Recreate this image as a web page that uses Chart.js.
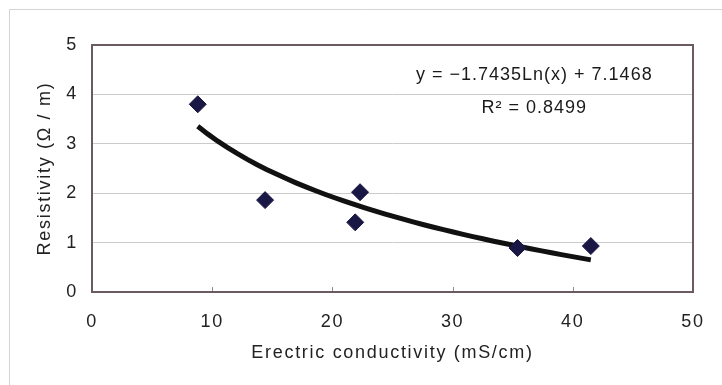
<!DOCTYPE html>
<html>
<head>
<meta charset="utf-8">
<script src="https://cdn.jsdelivr.net/npm/chart.js@4/dist/chart.umd.min.js"></script>
<style>
  html, body { margin: 0; padding: 0; background: #fff; }
  #wrap { width: 722px; height: 385px; position: relative; }
</style>
</head>
<body>
<div id="wrap"><canvas id="myChart" width="722" height="385"></canvas></div>
<script>
// Dados
const conductivity = [8.8, 14.4, 21.9, 22.3, 35.4, 41.5];
const resistivity = [3.8, 1.86, 1.41, 2.02, 0.89, 0.93];
const xTicks = [0, 10, 20, 30, 40, 50];
const yTicks = [0, 1, 2, 3, 4, 5];

// Linha de tendência logarítmica (coeficientes da equação do gráfico)
const trendA = -1.7435;
const trendB = 7.1468;
const trendLabel = ['y = \u22121.7435Ln(x) + 7.1468', 'R\u00b2 = 0.8499'];

const xMin = Math.min(...conductivity);
const xMax = Math.max(...conductivity);
const trendPoints = [];
for (let i = 0; i <= 40; i++) {
    const x = xMin + (xMax - xMin) * i / 40;
    trendPoints.push({ x: x, y: trendA * Math.log(x) + trendB });
}

const pontos = conductivity.map((x, i) => ({ x: x, y: resistivity[i] }));
const fonte = "'Liberation Sans', Arial, sans-serif";

// Moldura externa, borda da área do gráfico e marcas dos ticks
const moldura = {
    id: 'moldura',
    beforeDraw(chart) {
        const c = chart.ctx;
        c.save();
        c.fillStyle = '#fff';
        c.fillRect(0, 0, chart.width, chart.height);
        c.strokeStyle = '#d4d4d4';
        c.lineWidth = 1;
        c.beginPath();
        c.moveTo(9.5, chart.height);
        c.lineTo(9.5, 9.5);
        c.lineTo(chart.width, 9.5);
        c.stroke();
        c.restore();
        // espaçamento entre letras, parecido com a fonte original
        c.letterSpacing = '1.7px';
    },
    afterDatasetsDraw(chart) {
        const c = chart.ctx;
        const a = chart.chartArea;
        const xs = chart.scales.x;
        c.save();
        c.strokeStyle = '#8a8a8a';
        c.lineWidth = 1;
        xTicks.forEach(v => {
            const px = Math.round(xs.getPixelForValue(v)) + 0.5;
            c.beginPath();
            c.moveTo(px, a.bottom);
            c.lineTo(px, a.bottom - 5);
            c.stroke();
        });
        c.strokeStyle = '#6b5a60';
        c.lineWidth = 2;
        c.strokeRect(a.left, a.top, a.right - a.left, a.bottom - a.top);
        // texto da equação
        const ys = chart.scales.y;
        const cx = xs.getPixelForValue(36.8);
        const cy = ys.getPixelForValue(4.39);
        c.letterSpacing = '1px';
        c.fillStyle = '#1a1a1a';
        c.font = '18px ' + fonte;
        c.textAlign = 'center';
        c.textBaseline = 'middle';
        c.fillText(trendLabel[0], cx, cy);
        c.fillText(trendLabel[1], cx, cy + 33);
        c.restore();
    },
    afterDraw(chart) {
        chart.ctx.letterSpacing = '0px';
    }
};

var ctx = document.getElementById('myChart');
var myChart = new Chart(ctx, {
    type: 'scatter',
    data: {
        datasets: [{
            label: 'Resistivity',
            data: pontos,
            pointStyle: 'rectRot',
            pointRadius: 8.5,
            pointBackgroundColor: '#1b1745',
            pointBorderColor: '#1b1745',
            pointBorderWidth: 1,
            order: 1
        }, {
            label: 'Trend',
            data: trendPoints,
            showLine: true,
            pointRadius: 0,
            borderColor: '#111111',
            borderWidth: 5,
            tension: 0,
            order: 2
        }]
    },
    plugins: [moldura],
    options: {
        responsive: false,
        animation: false,
        layout: { padding: { top: 45, right: 26, left: 0, bottom: 0 } },
        plugins: { legend: { display: false }, tooltip: { enabled: false } },
        scales: {
            x: {
                type: 'linear',
                min: 0,
                max: 50,
                afterFit: s => { s.height = 93; },
                afterBuildTicks: s => { s.ticks = xTicks.map(v => ({ value: v })); },
                grid: { display: false, drawTicks: false },
                border: { display: false },
                ticks: { padding: 19, color: '#222', font: { family: fonte, size: 18 } },
                title: {
                    display: true,
                    text: 'Erectric conductivity (mS/cm)',
                    color: '#222',
                    font: { family: fonte, size: 18 },
                    padding: { top: 0, bottom: 21 }
                }
            },
            y: {
                min: 0,
                max: 5,
                afterFit: s => { s.width = 92; },
                afterBuildTicks: s => { s.ticks = yTicks.map(v => ({ value: v })); },
                grid: {
                    drawTicks: false,
                    color: ctx => (ctx.tick && (ctx.tick.value === 0 || ctx.tick.value === 5)) ? 'rgba(0,0,0,0)' : '#cbcbcb',
                    lineWidth: 1
                },
                border: { display: false },
                ticks: { padding: 14, color: '#222', font: { family: fonte, size: 18 } },
                title: {
                    display: true,
                    text: 'Resistivity (\u03a9 / m)',
                    color: '#222',
                    font: { family: fonte, size: 18 },
                    padding: { top: 34, bottom: 0 }
                }
            }
        }
    }
});
</script>
</body>
</html>
